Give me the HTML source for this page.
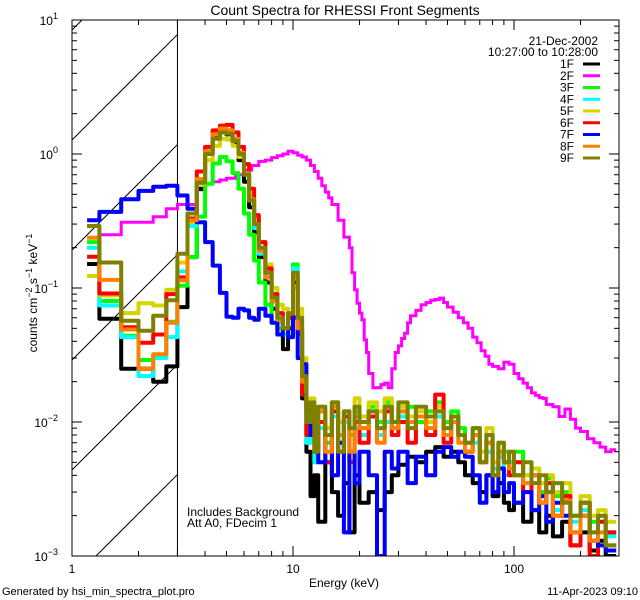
<!DOCTYPE html>
<html><head><meta charset="utf-8"><style>
html,body{margin:0;padding:0;background:#fff;width:640px;height:600px;overflow:hidden;}
svg{display:block;font-family:"Liberation Sans",sans-serif;}
</style></head><body>
<svg id="chart" width="640" height="600" viewBox="0 0 640 600" xmlns="http://www.w3.org/2000/svg">
<defs><clipPath id="plotclip"><rect x="72" y="20" width="547" height="536"/></clipPath></defs>
<rect x="0" y="0" width="640" height="600" fill="#fff"/>
<text x="345" y="15" font-size="14" text-anchor="middle">Count Spectra for RHESSI Front Segments</text>
<g id="hatch"></g>
<g id="series" clip-path="url(#plotclip)"></g>
<g id="axes"></g>
<g id="legend"></g>
<text x="187" y="516" font-size="12">Includes Background</text>
<text x="187" y="527" font-size="12">Att A0, FDecim 1</text>
<text x="344" y="587" font-size="12" text-anchor="middle">Energy (keV)</text>
<text transform="translate(37,293) rotate(-90)" font-size="12" text-anchor="middle">counts cm<tspan dy="-5" font-size="9">−2</tspan><tspan dy="5"> s</tspan><tspan dy="-5" font-size="9">−1</tspan><tspan dy="5"> keV</tspan><tspan dy="-5" font-size="9">−1</tspan></text>
<text x="2" y="595" font-size="11">Generated by hsi_min_spectra_plot.pro</text>
<text x="638" y="595" font-size="11" text-anchor="end">11-Apr-2023 09:10</text>
</svg>
<script>
// energy bin left edges (keV) for segments 1F,3F-9F
const binE = [1.17,1.33,1.67,2,2.33,2.67,3,3.33,3.67,4,4.33,4.67,5,5.33,5.67,6,6.33,6.67,7,7.5,8,8.5,9,9.5,10,10.5,11,11.5,12,12.5,13,14,15,16,17,18,19,20,22,24,26,28,30,33,36,40,44,48,52,56,60,65,70,75,80,85,90,95,100,110,120,130,140,150,165,180,200,220,240,260];
const binEnd = 290;
const s1F = [0.151,0.059,0.025,0.025,0.02,0.026,0.072,0.17,0.55,1.0,1.35,1.45,1.4,1.2,0.9,0.62,0.4,0.26,0.17,0.11,0.07,0.045,0.035,0.05,0.11,0.045,0.015,0.006,0.0028,0.004,0.0018,0.005,0.003,0.002,0.0035,0.0015,0.004,0.0025,0.003,0.0022,0.003,0.004,0.0048,0.0055,0.005,0.006,0.0065,0.0055,0.006,0.005,0.004,0.0035,0.003,0.004,0.0028,0.0035,0.0025,0.0022,0.0025,0.0018,0.0022,0.0015,0.002,0.0014,0.0018,0.0012,0.0015,0.0011,0.0013,0.001];
const s3F = [0.22,0.08,0.044,0.029,0.031,0.056,0.104,0.17,0.34,0.6,0.85,0.95,0.88,0.72,0.55,0.36,0.25,0.16,0.11,0.075,0.055,0.05,0.045,0.06,0.15,0.055,0.018,0.007,0.011,0.005,0.012,0.007,0.014,0.006,0.01,0.008,0.012,0.009,0.013,0.01,0.014,0.009,0.012,0.013,0.01,0.012,0.014,0.01,0.012,0.009,0.007,0.009,0.006,0.008,0.005,0.007,0.006,0.005,0.006,0.004,0.0045,0.003,0.0038,0.0028,0.003,0.002,0.0025,0.0018,0.002,0.0015];
const s4F = [0.2,0.074,0.043,0.022,0.03,0.043,0.133,0.29,0.64,1.1,1.45,1.55,1.5,1.3,1.0,0.7,0.45,0.28,0.18,0.12,0.08,0.055,0.045,0.06,0.14,0.05,0.016,0.007,0.01,0.005,0.009,0.006,0.011,0.007,0.01,0.006,0.009,0.008,0.011,0.008,0.01,0.008,0.011,0.009,0.012,0.009,0.011,0.008,0.01,0.008,0.006,0.007,0.005,0.006,0.0045,0.0055,0.004,0.005,0.004,0.0035,0.004,0.0028,0.003,0.0022,0.0028,0.0018,0.0022,0.0015,0.0018,0.0014];
const s5F = [0.123,0.088,0.065,0.077,0.074,0.097,0.155,0.31,0.6,0.9,1.15,1.3,1.28,1.15,0.95,0.72,0.5,0.33,0.22,0.15,0.1,0.075,0.07,0.06,0.1,0.07,0.03,0.013,0.015,0.008,0.013,0.009,0.014,0.01,0.012,0.009,0.015,0.011,0.014,0.012,0.015,0.01,0.013,0.011,0.012,0.01,0.013,0.009,0.011,0.008,0.007,0.008,0.006,0.009,0.005,0.007,0.005,0.006,0.005,0.004,0.0045,0.0035,0.004,0.003,0.0035,0.002,0.0028,0.002,0.0022,0.0018];
const s6F = [0.171,0.091,0.051,0.039,0.045,0.09,0.12,0.33,0.74,1.13,1.5,1.63,1.65,1.45,1.13,0.84,0.55,0.35,0.22,0.14,0.09,0.065,0.05,0.06,0.12,0.045,0.016,0.008,0.012,0.006,0.01,0.005,0.012,0.006,0.011,0.005,0.01,0.007,0.011,0.009,0.012,0.008,0.01,0.007,0.011,0.008,0.016,0.007,0.011,0.008,0.006,0.008,0.005,0.007,0.004,0.006,0.005,0.004,0.005,0.003,0.004,0.0025,0.0035,0.002,0.0028,0.0012,0.0025,0.001,0.0018,0.0015];
const s7F = [0.32,0.37,0.46,0.53,0.57,0.58,0.49,0.39,0.31,0.22,0.147,0.092,0.061,0.06,0.07,0.068,0.06,0.058,0.07,0.062,0.055,0.045,0.05,0.043,0.06,0.03,0.027,0.012,0.008,0.01,0.005,0.008,0.004,0.007,0.0015,0.006,0.0035,0.006,0.004,0.001,0.006,0.0045,0.006,0.0035,0.0055,0.004,0.006,0.0065,0.0055,0.006,0.0055,0.004,0.0025,0.004,0.003,0.0045,0.003,0.0035,0.0025,0.003,0.0022,0.0028,0.0018,0.0025,0.002,0.0015,0.002,0.0013,0.0012,0.0011];
const s8F = [0.237,0.115,0.049,0.025,0.032,0.055,0.114,0.32,0.65,1.05,1.4,1.55,1.5,1.3,1.02,0.72,0.46,0.3,0.19,0.12,0.08,0.058,0.05,0.065,0.12,0.05,0.02,0.01,0.013,0.007,0.012,0.006,0.013,0.008,0.012,0.006,0.011,0.009,0.012,0.007,0.013,0.009,0.012,0.01,0.011,0.009,0.012,0.008,0.01,0.007,0.006,0.008,0.005,0.007,0.004,0.006,0.005,0.0045,0.004,0.0035,0.004,0.0025,0.003,0.002,0.0026,0.0015,0.002,0.0013,0.0015,0.0012];
const s9F = [0.29,0.155,0.057,0.048,0.062,0.081,0.18,0.36,0.61,1.0,1.3,1.45,1.42,1.25,1.0,0.7,0.45,0.3,0.2,0.13,0.085,0.06,0.05,0.065,0.13,0.06,0.022,0.01,0.014,0.006,0.013,0.008,0.014,0.006,0.012,0.009,0.013,0.01,0.012,0.009,0.013,0.01,0.014,0.009,0.013,0.011,0.012,0.009,0.011,0.008,0.007,0.009,0.005,0.008,0.004,0.007,0.005,0.006,0.004,0.005,0.0035,0.004,0.003,0.0035,0.0025,0.002,0.0025,0.0015,0.002,0.0012];
// segment 2F has its own binning
const magE = [1.33,1.67,2,2.33,2.67,3,3.33,3.67,4,4.33,4.67,5,5.5,6,6.5,7,7.5,8,8.5,9,9.5,10,10.5,11,11.5,12,12.5,13,13.5,14,14.5,15,16,17,18,18.5,19,19.5,20,20.5,21,21.5,22,23,24,25,26,27,28,29,30,31,32,33,34,36,38,40,42,44,46,48,50,53,56,59,62,65,68,71,74,77,80,85,90,95,100,105,110,115,120,125,130,135,140,150,160,170,180,190,200,215,230,245,260,275];
const magV = [0.25,0.31,0.31,0.34,0.39,0.42,0.42,0.54,0.6,0.62,0.64,0.66,0.7,0.76,0.82,0.88,0.9,0.94,0.97,1.0,1.05,1.02,0.98,0.95,0.9,0.82,0.74,0.66,0.58,0.52,0.47,0.42,0.32,0.24,0.2,0.13,0.097,0.077,0.065,0.058,0.041,0.033,0.023,0.018,0.018,0.019,0.0195,0.018,0.025,0.033,0.037,0.042,0.046,0.055,0.062,0.068,0.075,0.078,0.081,0.082,0.084,0.078,0.072,0.066,0.06,0.055,0.05,0.043,0.039,0.034,0.031,0.027,0.026,0.025,0.028,0.027,0.023,0.021,0.0195,0.018,0.0165,0.0158,0.0152,0.015,0.0135,0.013,0.011,0.0125,0.0105,0.009,0.0085,0.0075,0.007,0.0065,0.006,0.0062];
const magEnd = 290;
const xTickLabels = ["1","10","100"];
const yTickExps = ["1","0","−1","−2","−3"];
const legendNames = ["1F","2F","3F","4F","5F","6F","7F","8F","9F"];
const legendColors = ["#000000","#ff00ff","#00ff00","#00ffff","#d4d400","#ff0000","#0000ff","#ff8000","#808000"];

const NS = "http://www.w3.org/2000/svg";
const X0 = 72, X1 = 619, Y0 = 20, Y1 = 556;
const XDEC = 221, YDEC = 134;
function xs(e){ return X0 + Math.log10(e) * XDEC; }
function ys(v){ return Y0 + (1 - Math.log10(Math.max(v, 0.00085))) * YDEC; }
function mk(tag, attrs, parent){ const el = document.createElementNS(NS, tag); for (const k in attrs) el.setAttribute(k, attrs[k]); parent.appendChild(el); return el; }

// hatch (segments computed inside the attenuator box)
const hatch = document.getElementById('hatch');
const HX1 = xs(3);
for (let c = 140 - 110*2; c < 800; c += 110) {
  const xa = Math.max(X0, X0 + c - Y1);
  const xb = Math.min(HX1, X0 + c - Y0);
  if (xb <= xa) continue;
  const ln = mk('line', {x1: xa, y1: c - (xa - X0), x2: xb, y2: c - (xb - X0), stroke: '#000', 'stroke-width': 1}, hatch);
  
  
}
const hb = mk('line', {x1: HX1, y1: Y0, x2: HX1, y2: Y1, stroke: '#000', 'stroke-width': 1}, hatch);



// series
const seriesG = document.getElementById('series');
function stepPath(edges, end, vals){
  let d = '';
  for (let i = 0; i < vals.length; i++) {
    const xa = xs(edges[i]), xb = xs(i + 1 < edges.length ? edges[i+1] : end), y = ys(vals[i]);
    d += (i === 0 ? 'M' : 'L') + xa.toFixed(1) + ',' + y.toFixed(1) + 'L' + xb.toFixed(1) + ',' + y.toFixed(1);
  }
  return d;
}
const order = [[0,s1F],[2,s3F],[3,s4F],[4,s5F],[5,s6F],[6,s7F],[7,s8F],[8,s9F]];
const magPath = mk('path', {d: stepPath(magE, magEnd, magV), fill: 'none', stroke: legendColors[1], 'stroke-width': 3}, seriesG);


order.forEach(([ci, vals]) => {
  const p = mk('path', {d: stepPath(binE, binEnd, vals), fill: 'none', stroke: legendColors[ci], 'stroke-width': 4, 'stroke-linejoin': 'round'}, seriesG);
  
  
});

// axes
const axes = document.getElementById('axes');
const frame = mk('rect', {x: X0, y: Y0, width: X1 - X0, height: Y1 - Y0, fill: 'none', stroke: '#000', 'stroke-width': 1}, axes);


for (let dec = 0; dec < 3; dec++) {
  for (let m = 1; m <= 9; m++) {
    const e = m * Math.pow(10, dec);
    const x = xs(e);
    if (x > X1) break;
    const L = m === 1 ? 10 : 5;
    const t1 = mk('line', {x1: x, y1: Y1, x2: x, y2: Y1 - L, stroke: '#000'}, axes);
    
    
    const t2 = mk('line', {x1: x, y1: Y0, x2: x, y2: Y0 + L, stroke: '#000'}, axes);
    
    
    if (m === 1) {
      const lb = mk('text', {x: x, y: Y1 + 17, 'font-size': 12, 'text-anchor': 'middle'}, axes);
      lb.textContent = xTickLabels[dec];
      
      
    }
  }
}
for (let dec = 0; dec < 5; dec++) {
  const base = Math.pow(10, 1 - dec);
  const yy = ys(base);
  const lb = mk('text', {x: 58, y: yy + 5, 'font-size': 12, 'text-anchor': 'end'}, axes);
  lb.textContent = '10';
  const sup = mk('tspan', {dy: -6, 'font-size': 9}, lb);
  sup.textContent = yTickExps[dec];
  
  
  if (dec === 4) continue;
  for (let m = 2; m <= 9; m++) {
    const y = ys(base / 10 * m);
    const a = mk('line', {x1: X0, y1: y, x2: X0 + 5, y2: y, stroke: '#000'}, axes);
    
    
    const b = mk('line', {x1: X1, y1: y, x2: X1 - 5, y2: y, stroke: '#000'}, axes);
    
    
  }
}
for (let dec = 0; dec < 5; dec++) {
  const y = ys(Math.pow(10, 1 - dec));
  const a = mk('line', {x1: X0, y1: y, x2: X0 + 10, y2: y, stroke: '#000'}, axes);
  
  
  const b = mk('line', {x1: X1, y1: y, x2: X1 - 10, y2: y, stroke: '#000'}, axes);
  
  
}

// legend
const lg = document.getElementById('legend');
const d1 = mk('text', {x: 598, y: 45, 'font-size': 12, 'text-anchor': 'end'}, lg);
d1.textContent = '21-Dec-2002';


const d2 = mk('text', {x: 598, y: 56, 'font-size': 12, 'text-anchor': 'end'}, lg);
d2.textContent = '10:27:00 to 10:28:00';


legendNames.forEach((nm, i) => {
  const y = 64 + i * 11.75;
  const t = mk('text', {x: 574, y: y + 4, 'font-size': 12, 'text-anchor': 'end'}, lg);
  t.textContent = nm;
  
  
  const l = mk('line', {x1: 583, y1: y, x2: 600, y2: y, stroke: legendColors[i], 'stroke-width': 3}, lg);
  
  
});
</script>
</body></html>
